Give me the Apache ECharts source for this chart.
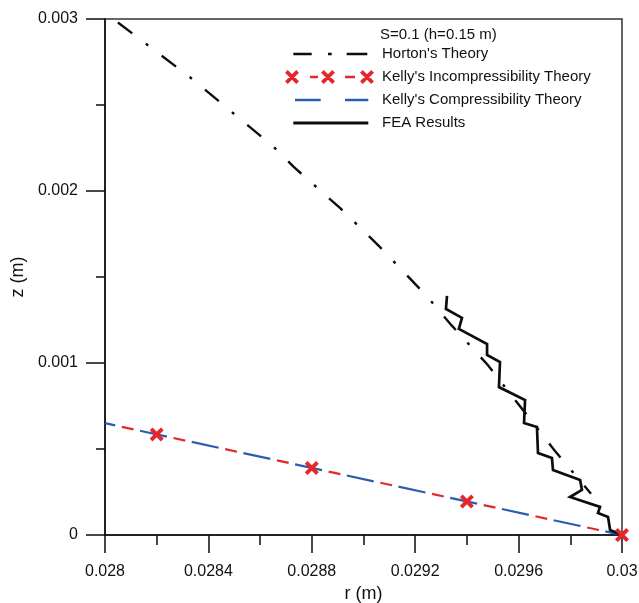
<!DOCTYPE html>
<html>
<head>
<meta charset="utf-8">
<script src="https://cdn.jsdelivr.net/npm/echarts@6/dist/echarts.min.js"></script>
<style>
html,body{margin:0;padding:0;background:#fff;}
#chart{width:639px;height:603px;}
</style>
</head>
<body>
<div id="chart"></div>
<script>
// ---- data ----
var titleText = "S=0.1 (h=0.15 m)";
var seriesNames = ["Horton's Theory", "Kelly's Incompressibility Theory", "Kelly's Compressibility Theory", "FEA Results"];

var hortonR = [0.02805, 0.02833, 0.02865, 0.02873, 0.02891, 0.02906, 0.02925, 0.02934, 0.02948, 0.02961, 0.02974, 0.02988];
var hortonZ = [0.00298, 0.00266, 0.00226, 0.00214, 0.00190, 0.00168, 0.00138, 0.00122, 0.00099, 0.00074, 0.00049, 0.00024];

var kellyIncR = [0.028, 0.0282, 0.0288, 0.0294, 0.03];
var kellyIncZ = [0.00065, 0.000585, 0.00039, 0.000195, 0];

var kellyCompR = [0.028, 0.03];
var kellyCompZ = [0.00065, 0];

var feaR = [0.029323, 0.029319, 0.029381, 0.029369, 0.029478, 0.029478, 0.029528, 0.029524, 0.029625, 0.029621, 0.029671, 0.029675, 0.029729, 0.029733, 0.029838, 0.029845, 0.029799, 0.029915, 0.029907, 0.029946, 0.029954, 0.03];
var feaZ = [0.00139, 0.001314, 0.001262, 0.001198, 0.00111, 0.001047, 0.001006, 0.00086, 0.000785, 0.000651, 0.000628, 0.000477, 0.000448, 0.000378, 0.00032, 0.000262, 0.000221, 0.000163, 0.000128, 0.000105, 0.000029, 0];

var xMin = 0.028, xMax = 0.03, xInterval = 0.0004;
var yMin = 0, yMax = 0.003, yInterval = 0.001;

// ---- helpers ----
function pairs(xs, ys) { return xs.map(function (x, i) { return [x, ys[i]]; }); }
function xShape(cx, cy, h, a) {
  var p1 = [[cx-h+a, cy-h-a], [cx+h+a, cy+h-a], [cx+h-a, cy+h+a], [cx-h-a, cy-h+a]];
  var p2 = [[cx-h-a, cy+h-a], [cx+h-a, cy-h-a], [cx+h+a, cy-h+a], [cx-h+a, cy+h+a]];
  function poly(p) { return 'M' + p.map(function (q) { return q[0].toFixed(2) + ' ' + q[1].toFixed(2); }).join(' L') + ' Z'; }
  return poly(p1) + ' ' + poly(p2);
}
function rect(x0, x1, y0, y1) { return 'M' + x0 + ' ' + y0 + ' L' + x1 + ' ' + y0 + ' L' + x1 + ' ' + y1 + ' L' + x0 + ' ' + y1 + ' Z'; }
var corners = 'M0 0 L0.01 0 L0 0.01 Z M92 16 L91.99 16 L92 15.99 Z ';
var iconHorton = 'path://' + corners + rect(8.3, 26.7, 6.7, 9.3) + ' ' + rect(43, 46.7, 6.7, 9.3) + ' ' + rect(61.7, 82.3, 6.7, 9.3);
var iconKellyInc = 'path://' + corners + xShape(7, 8, 5.6, 1.35) + ' ' + xShape(43, 8, 5.6, 1.35) + ' ' + xShape(82, 8, 5.6, 1.35) + ' ' + rect(25, 33, 6.7, 9.3) + ' ' + rect(60, 70, 6.7, 9.3);
var iconKellyComp = 'path://' + corners + rect(10, 35.7, 6.8, 9.2) + ' ' + rect(60, 83.3, 6.8, 9.2);
var iconFea = 'path://' + corners + rect(8.3, 83.3, 6.5, 9.5);
var xSymbol = 'path://' + xShape(0, 0, 5.5, 1.35);

var RED = '#e5262b', BLUE = '#2a5db0', BLACK = '#0d0d0d';
var TXT = '#111';
var FONT = '"Liberation Sans", Arial, sans-serif';

var kellyIncData = pairs(kellyIncR, kellyIncZ).map(function (p, i) {
  return i === 0 ? { value: p, symbol: 'none' } : { value: p };
});

function fmt(v) { return String(+(+v).toFixed(5)); }

var chart = echarts.init(document.getElementById('chart'), null, { renderer: 'canvas' });
chart.setOption({
  animation: false,
  backgroundColor: '#fff',
  textStyle: { fontFamily: FONT },
  title: {
    text: titleText, left: 380, top: 27, padding: 0,
    textStyle: { fontSize: 15, fontWeight: 'normal', color: TXT, fontFamily: FONT }
  },
  legend: {
    orient: 'vertical', left: 285, top: 46, padding: 0,
    itemWidth: 92, itemHeight: 16, itemGap: 7, symbolKeepAspect: false,
    textStyle: { fontSize: 15, color: TXT, fontFamily: FONT, lineHeight: 16 },
    data: [
      { name: seriesNames[0], icon: iconHorton, itemStyle: { color: BLACK, borderWidth: 0 } },
      { name: seriesNames[1], icon: iconKellyInc, itemStyle: { color: RED, borderWidth: 0 } },
      { name: seriesNames[2], icon: iconKellyComp, itemStyle: { color: BLUE, borderWidth: 0 } },
      { name: seriesNames[3], icon: iconFea, itemStyle: { color: BLACK, borderWidth: 0 } }
    ]
  },
  grid: { left: 105, right: 17, top: 19, bottom: 68, containLabel: false, outerBoundsMode: 'none',
          show: true, borderColor: '#333', borderWidth: 1.5, backgroundColor: 'transparent' },
  xAxis: {
    type: 'value', min: xMin, max: xMax, interval: xInterval,
    name: 'r (m)', nameLocation: 'middle', nameGap: 50,
    nameTextStyle: { fontSize: 18, color: TXT, fontFamily: FONT },
    axisLine: { show: true, onZero: false, lineStyle: { color: BLACK, width: 1.5 } },
    axisTick: { show: true, inside: false, length: 18, lineStyle: { color: BLACK, width: 1.5 } },
    minorTick: { show: true, splitNumber: 2, length: 10, lineStyle: { color: BLACK, width: 1.5 } },
    axisLabel: { fontSize: 16, color: TXT, margin: 29, fontFamily: FONT, formatter: fmt, hideOverlap: false },
    splitLine: { show: false }, minorSplitLine: { show: false }
  },
  yAxis: {
    type: 'value', min: yMin, max: yMax, interval: yInterval,
    name: 'z (m)', nameLocation: 'middle', nameGap: 72,
    nameTextStyle: { fontSize: 18, color: TXT, fontFamily: FONT },
    axisLine: { show: true, onZero: false, lineStyle: { color: BLACK, width: 1.5 } },
    axisTick: { show: true, inside: false, length: 19, lineStyle: { color: BLACK, width: 1.5 } },
    minorTick: { show: true, splitNumber: 2, length: 9, lineStyle: { color: BLACK, width: 1.5 } },
    axisLabel: { fontSize: 16, color: TXT, margin: 27, fontFamily: FONT, formatter: fmt },
    splitLine: { show: false }, minorSplitLine: { show: false }
  },
  series: [
    {
      name: seriesNames[2], type: 'line', data: pairs(kellyCompR, kellyCompZ),
      symbol: 'none', color: BLUE, z: 2, clip: false,
      lineStyle: { color: BLUE, width: 2.2, type: [27.5, 25.4], dashOffset: 17.1 }
    },
    {
      name: seriesNames[1], type: 'line', data: kellyIncData,
      symbol: xSymbol, symbolSize: 14, color: RED, z: 3, clip: false,
      itemStyle: { color: RED, borderWidth: 0 },
      lineStyle: { color: RED, width: 2.2, type: [12, 40.9], dashOffset: 35.7 }
    },
    {
      name: seriesNames[0], type: 'line', data: pairs(hortonR, hortonZ),
      symbol: 'none', color: BLACK, z: 2,
      lineStyle: { color: BLACK, width: 2.4, type: [18, 17, 3, 17] }
    },
    {
      name: seriesNames[3], type: 'line', data: pairs(feaR, feaZ),
      symbol: 'none', color: BLACK, z: 2,
      lineStyle: { color: BLACK, width: 2.7, join: 'miter' }
    }
  ]
});
</script>
</body>
</html>
